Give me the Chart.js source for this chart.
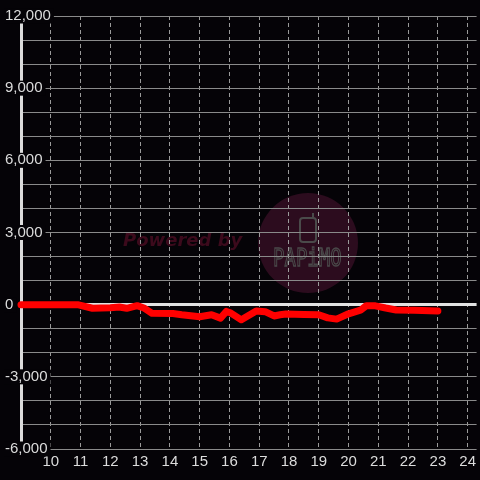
<!DOCTYPE html>
<html>
<head>
<meta charset="utf-8">
<script src="https://cdn.jsdelivr.net/npm/chart.js@4"></script>
<style>
  html, body { margin: 0; padding: 0; background: #050307; }
</style>
</head>
<body>
<canvas id="chart" width="480" height="480"></canvas>
<script>
// hour of day, profit value
const hours = [9, 10.9, 11.4, 12.0, 12.3, 12.55, 12.9, 13.15, 13.4, 14.1, 14.4, 15.0, 15.4, 15.7, 15.9, 16.05, 16.4, 16.9, 17.2, 17.5, 17.7, 17.9, 18.5, 19.0, 19.3, 19.6, 20.0, 20.4, 20.6, 20.9, 21.25, 21.6, 22.2, 23.0];
const values = [0, 0, -150, -130, -100, -150, -40, -150, -360, -370, -420, -500, -420, -560, -280, -350, -630, -260, -290, -470, -420, -390, -410, -420, -550, -600, -380, -230, -40, -50, -140, -220, -235, -260];

const xTicks = [10, 11, 12, 13, 14, 15, 16, 17, 18, 19, 20, 21, 22, 23, 24];
const yTickLabels = [-6000, -3000, 0, 3000, 6000, 9000, 12000];

const BG = '#050307';
const LABEL = '#dcdcdc';

// background + "Powered by" watermark, under the grid
const watermark = {
  id: 'watermark',
  beforeDraw(chart) {
    const ctx = chart.ctx;
    ctx.save();
    ctx.fillStyle = BG;
    ctx.fillRect(0, 0, chart.width, chart.height);

    ctx.fillStyle = '#2c0c1e';
    ctx.beginPath();
    ctx.arc(308, 243, 50, 0, Math.PI * 2);
    ctx.fill();

    ctx.fillStyle = '#3c0a1c';
    ctx.font = 'bold italic 18px "DejaVu Sans"';
    ctx.textBaseline = 'middle';
    ctx.fillText('Powered by', 123, 241);

    ctx.strokeStyle = '#4a4a4a';
    ctx.lineWidth = 2;
    ctx.beginPath();
    ctx.roundRect(300, 218, 16, 24, 3);
    ctx.stroke();
    ctx.beginPath();
    ctx.moveTo(313, 218);
    ctx.lineTo(313, 213);
    ctx.stroke();

    ctx.lineWidth = 1;
    ctx.font = '19px "DejaVu Sans Mono"';
    ctx.textBaseline = 'alphabetic';
    ctx.translate(273, 266);
    ctx.scale(1, 1.35);
    ctx.strokeText('PAPiMO', 0, 0);
    ctx.restore();
  }
};

new Chart(document.getElementById('chart'), {
  type: 'line',
  data: {
    datasets: [{
      data: hours.map((h, i) => ({ x: h, y: values[i] })),
      borderColor: '#ff0000',
      borderWidth: 7,
      borderCapStyle: 'round',
      borderJoinStyle: 'round',
      pointRadius: 0,
      tension: 0,
      clip: false
    }]
  },
  options: {
    responsive: false,
    animation: false,
    layout: { padding: { left: 21, right: 0, top: 16, bottom: 5 } },
    plugins: { legend: { display: false }, tooltip: { enabled: false } },
    scales: {
      x: {
        type: 'linear',
        min: 9,
        max: 24.3,
        afterBuildTicks: s => { s.ticks = xTicks.map(v => ({ value: v })); },
        border: { display: false, dash: [4, 3] },
        grid: { color: '#9a9a9a', lineWidth: 1, drawTicks: false },
        ticks: {
          color: LABEL,
          font: { family: '"Liberation Sans", Arial, sans-serif', size: 15 },
          padding: 4,
          maxRotation: 0,
          autoSkip: false,
          callback: v => String(v)
        }
      },
      y: {
        min: -6000,
        max: 12000,
        afterFit: s => { s.width = 0; },
        border: { display: true, color: LABEL, width: 3 },
        grid: {
          drawTicks: false,
          color: c => c.tick.value === 0 ? '#e2e2e2' : '#8a8a8a',
          lineWidth: c => c.tick.value === 0 ? 3 : 1
        },
        ticks: {
          stepSize: 1000,
          mirror: true,
          padding: -16,
          color: LABEL,
          font: { family: '"Liberation Sans", Arial, sans-serif', size: 15, lineHeight: 1 },
          showLabelBackdrop: c => yTickLabels.includes(c.tick.value),
          backdropColor: BG,
          backdropPadding: { left: 1, right: 3, top: 0, bottom: 0 },
          callback: v => yTickLabels.includes(v) ? v.toLocaleString('en-US') : ''
        }
      }
    }
  },
  plugins: [watermark]
});
</script>
</body>
</html>
